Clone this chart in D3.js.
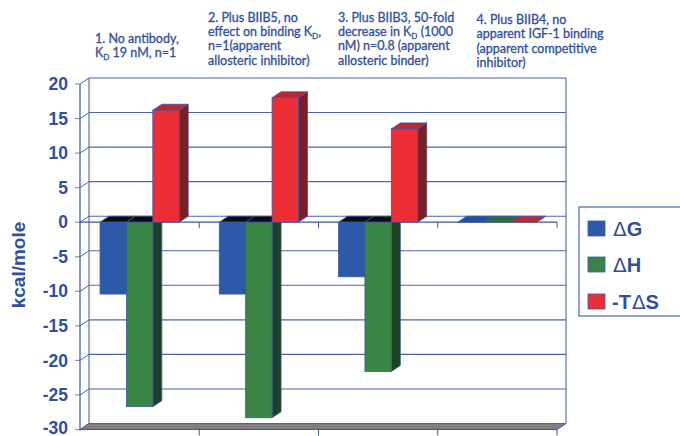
<!DOCTYPE html>
<html>
<head>
<meta charset="utf-8">
<script src="https://cdn.jsdelivr.net/npm/d3@7"></script>
<style>
  body { margin: 0; background: #fff; }
  svg { display: block; }
</style>
</head>
<body>
<svg id="chart" width="680" height="436"></svg>
<script>
// ---- data ----
const categories = ["1", "2", "3", "4"];
const seriesNames = ["ΔG", "ΔH", "-TΔS"];
const deltaG = [-10.4, -10.4, -7.9, 0];
const deltaH = [-26.7, -28.3, -21.6, 0];
const minusTdeltaS = [16.2, 18.0, 13.5, 0];
const yTicks = [20, 15, 10, 5, 0, -5, -10, -15, -20, -25, -30];
const yTitle = "kcal/mole";
// category notes; "_D" marks a subscript D
const note1 = ["1. No antibody,", "K_D 19 nM, n=1"];
const note2 = ["2. Plus BIIB5, no", "effect on binding K_D,", "n=1(apparent", "allosteric inhibitor)"];
const note3 = ["3. Plus BIIB3, 50-fold", "decrease in K_D (1000", "nM) n=0.8 (apparent", "allosteric binder)"];
const note4 = ["4. Plus BIIB4, no", "apparent IGF-1 binding", "(apparent competitive", "inhibitor)"];

const seriesValues = [deltaG, deltaH, minusTdeltaS];
const notes = [note1, note2, note3, note4];

// ---- styling ----
const TEXT = "#2f4f9f";
const GRID = "#4b64b0";
const EDGE = "#3b57a5";
const faceColor = ["#2c5aa8", "#3a8543", "#ee2e35"];
const topColor = ["#27509c", "#2f6b3a", "#c1262f"];
const sideColor = ["#1f3f7c", "#1d4124", "#7b1f25"];
const DX = 9, DY = -6;  // oblique depth offset of the 3D walls and bars

const svg = d3.select("#chart");

// ---- scales ----
const y = d3.scaleLinear().domain([-30, 20]).range([429.5, 84]);
const x = d3.scaleBand().domain(categories).range([80, 557]);
const bw = x.bandwidth();
const xs = d3.scaleBand().domain(seriesNames).range([bw * 0.168, bw * 0.832]);

const left = x.range()[0], right = x.range()[1];
const yMax = y(20), yMin = y(-30), y0 = y(0);

// ---- walls ----
const walls = svg.append("g");
// floor
walls.append("polygon")
  .attr("points", [[left, yMin], [right, yMin], [right + DX, yMin + DY], [left + DX, yMin + DY]].join(" "))
  .attr("fill", "#7f7f7f").attr("stroke", EDGE).attr("stroke-width", 1);

// back-wall gridlines and side-wall diagonals
yTicks.forEach(t => {
  const yy = y(t);
  walls.append("line")
    .attr("x1", left + DX).attr("x2", right + DX)
    .attr("y1", yy + DY).attr("y2", yy + DY)
    .attr("stroke", GRID).attr("stroke-width", 1.1);
  walls.append("line")
    .attr("x1", left).attr("x2", left + DX)
    .attr("y1", yy).attr("y2", yy + DY)
    .attr("stroke", GRID).attr("stroke-width", 1);
  walls.append("line")
    .attr("x1", left - 5).attr("x2", left)
    .attr("y1", yy).attr("y2", yy)
    .attr("stroke", "#8596cc").attr("stroke-width", 1.2);
});
// back-wall verticals
[left + DX, right + DX].forEach(xx => {
  walls.append("line")
    .attr("x1", xx).attr("x2", xx)
    .attr("y1", yMax + DY).attr("y2", yMin + DY)
    .attr("stroke", GRID).attr("stroke-width", 1.1);
});
// front value axis
walls.append("line")
  .attr("x1", left).attr("x2", left).attr("y1", yMax).attr("y2", yMin + 1)
  .attr("stroke", EDGE).attr("stroke-width", 1.2);

// category axis lines at zero and at the floor, with ticks between groups
[y0, yMin].forEach(yy => {
  walls.append("line")
    .attr("x1", left).attr("x2", right).attr("y1", yy).attr("y2", yy)
    .attr("stroke", EDGE).attr("stroke-width", 1.2);
  categories.forEach(c => {
    const xx = x(c) + bw;
    walls.append("line")
      .attr("x1", xx).attr("x2", xx).attr("y1", yy).attr("y2", yy + 6)
      .attr("stroke", EDGE).attr("stroke-width", 1);
  });
});

// ---- value axis labels ----
const axisG = svg.append("g").attr("transform", `translate(${left},0)`);
const yAxis = d3.axisLeft(y).tickValues(yTicks).tickSize(0).tickPadding(12)
  .tickFormat(d => String(d).replace("−", "-"));
axisG.call(yAxis);
axisG.select(".domain").remove();
axisG.selectAll("text")
  .attr("fill", TEXT)
  .style("font-family", "'Liberation Sans', Arial, sans-serif")
  .style("font-weight", "bold")
  .style("font-size", "17.5px");
// keep the lowest label inside the page
axisG.selectAll(".tick").filter(d => d === -30).select("text").attr("dy", "0.22em");

svg.append("text")
  .attr("transform", "translate(25,265) rotate(-90)")
  .attr("text-anchor", "middle")
  .attr("fill", TEXT)
  .style("font-family", "'Liberation Sans', Arial, sans-serif")
  .style("font-weight", "bold")
  .style("font-size", "19px")
  .text(yTitle);

// ---- 3D bars ----
const bars = svg.append("g");
categories.forEach((c, ci) => {
  seriesNames.forEach((s, si) => {
    const v = seriesValues[si][ci];
    const x0 = x(c) + xs(s);
    const x1 = x0 + xs.bandwidth();
    const yv = y(v);
    const yTop = Math.min(yv, y0), yBot = Math.max(yv, y0);
    const g = bars.append("g");
    // right side face
    if (yBot > yTop) {
      g.append("polygon")
        .attr("points", [[x1, yTop], [x1 + DX, yTop + DY], [x1 + DX, yBot + DY], [x1, yBot]].join(" "))
        .attr("fill", sideColor[si]).attr("stroke", EDGE).attr("stroke-width", 0.8);
    }
    // top face (dark cap where a bar hangs below zero)
    const capFill = v < 0 ? "#0c0a0c" : topColor[si];
    g.append("polygon")
      .attr("points", [[x0, yTop], [x0 + DX, yTop + DY], [x1 + DX, yTop + DY], [x1, yTop]].join(" "))
      .attr("fill", capFill).attr("stroke", EDGE).attr("stroke-width", 0.8);
    // front face
    if (yBot > yTop) {
      g.append("rect")
        .attr("x", x0).attr("y", yTop)
        .attr("width", x1 - x0).attr("height", yBot - yTop)
        .attr("fill", faceColor[si]).attr("stroke", EDGE).attr("stroke-width", 0.8);
    }
  });
});

// ---- category notes ----
const noteX = [95, 208, 338, 476.5];
const noteY = [42.5, 21.5, 21.5, 24];
const notesG = svg.append("g")
  .style("font-family", "Lato, 'Open Sans', sans-serif")
  .style("font-size", "12.5px")
  .attr("fill", TEXT)
  .attr("stroke", TEXT)
  .attr("stroke-width", 0.3);
notes.forEach((lines, ni) => {
  lines.forEach((line, li) => {
    const t = notesG.append("text")
      .attr("x", noteX[ni])
      .attr("y", noteY[ni] + li * 14.4);
    const parts = line.split("_D");
    parts.forEach((p, pi) => {
      if (pi > 0) {
        t.append("tspan").attr("dy", 3).style("font-size", "8px").text("D");
        t.append("tspan").attr("dy", -3).text(p);
      } else {
        t.append("tspan").text(p);
      }
    });
  });
});

// ---- legend ----
const leg = svg.append("g");
leg.append("rect")
  .attr("x", 579).attr("y", 207).attr("width", 120).attr("height", 109)
  .attr("fill", "#fff").attr("stroke", GRID).attr("stroke-width", 1.2);
const legY = [221, 257, 294];
seriesNames.forEach((s, si) => {
  leg.append("rect")
    .attr("x", 588).attr("y", legY[si]).attr("width", 17).attr("height", 15)
    .attr("fill", faceColor[si]).attr("stroke", EDGE).attr("stroke-width", 0.8);
  const t = leg.append("text")
    .attr("x", 612).attr("y", legY[si] + 15)
    .attr("fill", TEXT)
    .style("font-family", "'Liberation Sans', Arial, sans-serif")
    .style("font-weight", "bold")
    .style("font-size", "20px");
  // the Greek delta is set in a lighter weight
  s.split(/(Δ)/).filter(p => p.length).forEach(p => {
    const ts = t.append("tspan").text(p);
    if (p === "Δ") ts.style("font-weight", "normal").attr("dx", 1).style("font-family", "'DejaVu Sans', sans-serif");
  });
});
</script>
</body>
</html>
